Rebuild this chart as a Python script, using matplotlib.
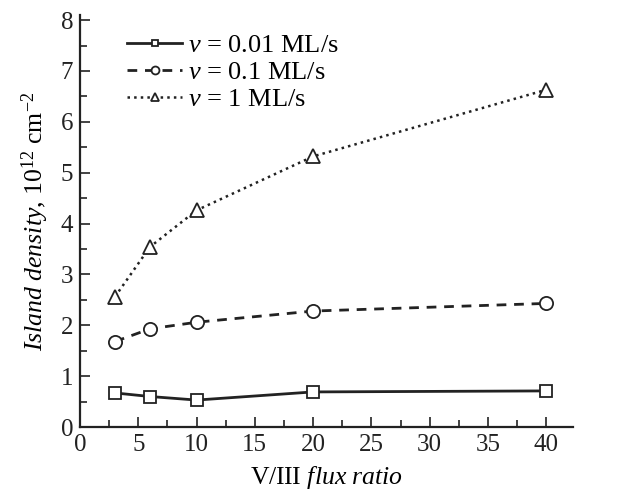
import matplotlib
matplotlib.use("Agg")
import matplotlib.pyplot as plt
from matplotlib.ticker import MultipleLocator

plt.rcParams['font.family'] = ['Liberation Serif', 'DejaVu Serif']
plt.rcParams['mathtext.fontset'] = 'custom'
plt.rcParams['mathtext.rm'] = 'Liberation Serif'
plt.rcParams['mathtext.it'] = 'Liberation Serif:italic'

flux_ratio = [3, 6, 10, 20, 40]
rate_001 = [0.67, 0.60, 0.53, 0.69, 0.71]
rate_01 = [1.68, 1.93, 2.06, 2.28, 2.43]
rate_1 = [2.56, 3.54, 4.26, 5.32, 6.63]
labels = [r"$\mathit{v}$ = 0.01 ML/s", r"$\mathit{v}$ = 0.1 ML/s", r"$\mathit{v}$ = 1 ML/s"]

fig = plt.figure(figsize=(6.42, 4.97), dpi=100)
ax = fig.add_axes([0.1246, 0.1408, 0.768, 0.829])

ax.plot(flux_ratio, rate_001, '-', color='#222222', lw=2.0, marker='s', ms=8,
        mfc='white', mec='#222222', mew=1.3, label=labels[0])
ax.plot(flux_ratio, rate_01, '--', color='#222222', lw=2.0, marker='o', ms=9.5,
        mfc='white', mec='#222222', mew=1.3, label=labels[1], dashes=(3.5, 2.8))
ax.plot(flux_ratio, rate_1, ':', color='#222222', lw=1.8, marker='^', ms=10,
        mfc='white', mec='#222222', mew=1.3, label=labels[2])

ax.set_xlim(0, 42.3)
ax.set_ylim(0, 8.1)
ax.xaxis.set_major_locator(MultipleLocator(5))
ax.xaxis.set_minor_locator(MultipleLocator(2.5))
ax.yaxis.set_major_locator(MultipleLocator(1))
ax.yaxis.set_minor_locator(MultipleLocator(0.5))
ax.tick_params(which='both', direction='in', width=1.2, colors='#222222', labelsize=18)
ax.tick_params(which='major', length=7)
ax.tick_params(which='minor', length=5)
ax.tick_params(axis='x', pad=5)
ax.tick_params(axis='y', pad=5)
for s in ['top', 'right']:
    ax.spines[s].set_visible(False)
for s in ['left', 'bottom']:
    ax.spines[s].set_linewidth(1.6)
    ax.spines[s].set_color('#222222')

ax.set_xlabel(r"V/III $\mathit{flux\ ratio}$", fontsize=18.5, labelpad=6)
ax.set_ylabel(r"$\mathit{Island\ density}$, 10$^{12}$ cm$^{-2}$", fontsize=18.5, labelpad=7)

leg = ax.legend(loc='upper left', bbox_to_anchor=(0.095, 0.955), frameon=False, fontsize=19,
                handlelength=2.1, handletextpad=0.2, labelspacing=0.13, borderaxespad=0,
                borderpad=0, markerscale=0.6)

fig.savefig("out.png", dpi=100)
